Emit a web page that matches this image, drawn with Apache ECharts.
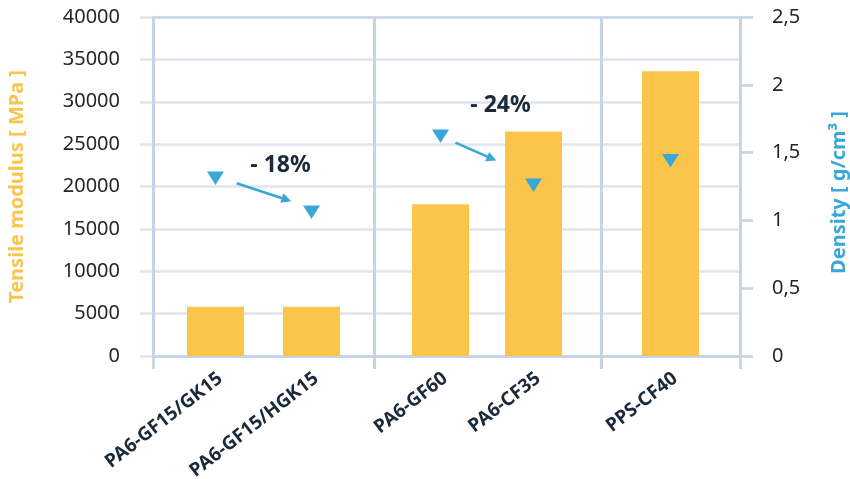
<!DOCTYPE html>
<html>
<head>
<meta charset="utf-8">
<script src="https://cdn.jsdelivr.net/npm/echarts@6/dist/echarts.min.js"></script>
<style>
html,body{margin:0;padding:0;background:#fff;}
#c{width:850px;height:479px;}
</style>
</head>
<body>
<div id="c"></div>
<script>
// ---- data ----
const categories = ['PA6-GF15/GK15', 'PA6-GF15/HGK15', 'PA6-GF60', 'PA6-CF35', 'PPS-CF40'];
const groupSizes = [2, 2, 1];
const modulus = [5800, 5800, 17900, 26500, 33600];
const density = [1.31, 1.06, 1.62, 1.26, 1.44];
const changeLabels = ['- 18%', '- 24%'];
const modulusAxis = { min: 0, max: 40000, interval: 5000 };
const densityAxis = { min: 0, max: 2.5, interval: 0.5 };

// ---- styles ----
const FONT = 'Noto Sans';
const ORANGE = '#fcc44b';
const BLUE = '#3aa8d6';
const AXIS = '#c5d3e3';
const GRIDC = '#dfe5ed';
const DARK = '#1b2a3b';
const TOP = 17, BOTTOM = 123;

// layout of the panels (pixels)
const frameBoxes = [[153, 221], [374, 227], [601, 139]];
const barBoxes = [[167.5, 192], [394, 186], [601, 139]];

const chart = echarts.init(document.getElementById('c'), null, { renderer: 'canvas' });

const grid = [{ left: 153, right: 110, top: TOP, bottom: BOTTOM, outerBoundsMode: 'none', containLabel: false }];
frameBoxes.forEach(b => grid.push({ left: b[0], width: b[1], top: TOP, bottom: BOTTOM, outerBoundsMode: 'none', containLabel: false }));
barBoxes.forEach(b => grid.push({ left: b[0], width: b[1], top: TOP, bottom: BOTTOM, outerBoundsMode: 'none', containLabel: false }));

const xAxis = [{ gridIndex: 0, type: 'category', data: [''], show: false }];
const yAxis = [
  {
    gridIndex: 0, type: 'value', position: 'left',
    min: modulusAxis.min, max: modulusAxis.max, interval: modulusAxis.interval,
    name: 'Tensile modulus [ MPa ]', nameLocation: 'middle', nameRotate: 90, nameGap: 126,
    nameTextStyle: { color: ORANGE, fontWeight: 'bold', fontSize: 20, fontFamily: FONT },
    axisLine: { show: true, lineStyle: { color: AXIS, width: 2.6 } },
    axisTick: { show: true, length: 13, lineStyle: { color: GRIDC, width: 2.6 } },
    axisLabel: { margin: 33, fontSize: 20, color: '#262626', fontFamily: FONT,
      formatter: v => String(v) },
    splitLine: { show: true, lineStyle: { color: [AXIS, GRIDC, GRIDC, GRIDC, GRIDC, GRIDC, GRIDC, GRIDC, AXIS], width: 2.6 } }
  },
  {
    gridIndex: 0, type: 'value', position: 'right',
    min: densityAxis.min, max: densityAxis.max, interval: densityAxis.interval,
    name: 'Density [ g/cm³ ]', nameLocation: 'middle', nameRotate: 90, nameGap: 89,
    nameTextStyle: { color: BLUE, fontWeight: 'bold', fontSize: 20, fontFamily: FONT, padding: [0, 12, 0, 0] },
    axisLine: { show: true, lineStyle: { color: AXIS, width: 2.6 } },
    axisTick: { show: true, length: 13, lineStyle: { color: AXIS, width: 2.6 } },
    axisLabel: { margin: 32, fontSize: 20, color: '#262626', fontFamily: FONT,
      formatter: v => String(v).replace('.', ',') },
    splitLine: { show: false }
  }
];

// frame panels: separators + tick extensions
frameBoxes.forEach((b, i) => {
  xAxis.push({
    gridIndex: 1 + i, type: 'category', data: [''], z: 1,
    axisLine: { show: true, lineStyle: { color: AXIS, width: 2.6 } },
    axisTick: { show: true, length: 13, lineStyle: { color: AXIS, width: 2.6 } },
    axisLabel: { show: false },
    splitLine: { show: true, lineStyle: { color: AXIS, width: 2.6 } }
  });
  yAxis.push({ gridIndex: 1 + i, type: 'value', min: 0, max: 1, show: false });
});

// bar panels
const series = [];
let start = 0;
groupSizes.forEach((n, g) => {
  const gi = 4 + g;
  const cats = categories.slice(start, start + n);
  xAxis.push({
    gridIndex: gi, type: 'category', data: cats, z: 3,
    axisLine: { show: false }, axisTick: { show: false }, splitLine: { show: false },
    axisLabel: { rotate: 38, margin: 24, fontSize: 19, fontWeight: 'bold', color: DARK,
      fontFamily: FONT, interval: 0, padding: [12, -6, 0, 0] }
  });
  const yM = yAxis.length;
  yAxis.push({ gridIndex: gi, type: 'value', min: modulusAxis.min, max: modulusAxis.max, show: false });
  yAxis.push({ gridIndex: gi, type: 'value', min: densityAxis.min, max: densityAxis.max, show: false });
  series.push({
    type: 'bar', xAxisIndex: 4 + g, yAxisIndex: yM, data: modulus.slice(start, start + n),
    barWidth: 57, itemStyle: { color: ORANGE }, silent: true, z: 2
  });
  series.push({
    type: 'scatter', xAxisIndex: 4 + g, yAxisIndex: yM + 1, data: density.slice(start, start + n),
    symbol: 'triangle', symbolRotate: 180, symbolSize: [17, 13.5],
    itemStyle: { color: BLUE, opacity: 1 }, silent: true, z: 4
  });
  start += n;
});

chart.setOption({
  animation: false,
  backgroundColor: '#fff',
  textStyle: { fontFamily: FONT },
  grid, xAxis, yAxis, series
});

// ---- annotations (arrows between density markers) ----
function pxD(i) {
  let s = 0, g = 0;
  while (i >= s + groupSizes[g]) { s += groupSizes[g]; g++; }
  return chart.convertToPixel({ seriesIndex: 2 * g + 1 }, [i - s, density[i]]);
}
function lerp(a, b, t) { return [a[0] + (b[0] - a[0]) * t, a[1] + (b[1] - a[1]) * t]; }
const pairs = [
  { from: 0, to: 1, t0: 0.22, t1: 0.79, d0: -2.5, d1: -4, text: changeLabels[0], off: [65, -13] },
  { from: 2, to: 3, t0: 0.16, t1: 0.60, d0: -1.5, d1: -5, text: changeLabels[1], off: [60, -31] }
];
const graphic = [];
pairs.forEach(p => {
  const A = pxD(p.from), B = pxD(p.to);
  const s = lerp(A, B, p.t0); s[1] += p.d0;
  const e = lerp(A, B, p.t1); e[1] += p.d1;
  const dx = e[0] - s[0], dy = e[1] - s[1];
  const L = Math.sqrt(dx * dx + dy * dy), ux = dx / L, uy = dy / L;
  const hl = 10, hw = 5;
  const base = [e[0] - ux * hl, e[1] - uy * hl];
  graphic.push({
    type: 'polyline', silent: true, z: 10,
    shape: { points: [s, [e[0] - ux * (hl - 2), e[1] - uy * (hl - 2)]] },
    style: { stroke: BLUE, lineWidth: 2.6, fill: null }
  });
  graphic.push({
    type: 'polygon', silent: true, z: 10,
    shape: { points: [e, [base[0] - uy * hw, base[1] + ux * hw], [base[0] + uy * hw, base[1] - ux * hw]] },
    style: { fill: BLUE }
  });
  graphic.push({
    type: 'text', silent: true, z: 10,
    x: A[0] + p.off[0], y: A[1] + p.off[1],
    style: { text: p.text, fill: DARK, font: 'bold 23px "Noto Sans"', align: 'center', verticalAlign: 'middle' }
  });
});
chart.setOption({ graphic });
</script>
</body>
</html>
